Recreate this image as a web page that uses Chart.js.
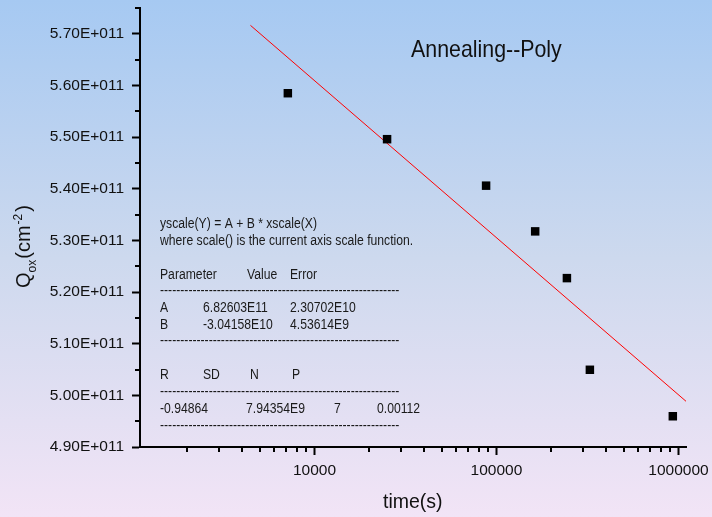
<!DOCTYPE html>
<html lang="en">
<head>
<meta charset="UTF-8">
<title>Annealing--Poly</title>
<script src="https://cdn.jsdelivr.net/npm/chart.js"></script>
<style>
  body {
    margin: 0;
    width: 712px;
    height: 517px;
    overflow: hidden;
    background: linear-gradient(to bottom, #a6c9f2 0%, #cdd9ee 50%, #f2e4f6 100%);
  }
</style>
</head>
<body>
<canvas id="qoxChart" width="712" height="517"></canvas>
<script>
// annealing time (s) vs oxide charge Qox (cm^-2)
const timeSec = [7140, 25060, 87700, 163200, 243800, 326000, 931000];
const qox = [5.585e11, 5.496e11, 5.406e11, 5.3175e11, 5.227e11, 5.0495e11, 4.9595e11];

// ends of the fitted line Q = A + B*log10(t)
const fitTime = [4450, 1100000];
const fitQox = [5.7164e11, 4.9885e11];

const xMajorTicks = [10000, 100000, 1000000];
const xMinorTicks = [2000, 3000, 4000, 5000, 6000, 7000, 8000, 9000,
  20000, 30000, 40000, 50000, 60000, 70000, 80000, 90000,
  200000, 300000, 400000, 500000, 600000, 700000, 800000, 900000];
const yMajorTicks = [4.9e11, 5.0e11, 5.1e11, 5.2e11, 5.3e11, 5.4e11, 5.5e11, 5.6e11, 5.7e11];
const yMinorTicks = [4.95e11, 5.05e11, 5.15e11, 5.25e11, 5.35e11, 5.45e11, 5.55e11, 5.65e11, 5.75e11];

// fit report
const fitEquation = ['yscale(Y) = A + B * xscale(X)', 'where scale() is the current axis scale function.'];
const fitHeader = ['Parameter', 'Value', 'Error'];
const fitParams = [['A', '6.82603E11', '2.30702E10'], ['B', '-3.04158E10', '4.53614E9']];
const statHeader = ['R', 'SD', 'N', 'P'];
const statValues = ['-0.94864', '7.94354E9', '7', '0.00112'];

const FONT = '"Liberation Sans", Arial, sans-serif';

function sci(v) {
  const parts = v.toExponential(2).split('e');
  const e = parseInt(parts[1], 10);
  return parts[0] + 'E' + (e < 0 ? '-' : '+') + String(Math.abs(e)).padStart(3, '0');
}

function text(ctx, s, x, y, size, sx, color) {
  ctx.save();
  ctx.font = size + 'px ' + FONT;
  ctx.fillStyle = color || '#111';
  ctx.textAlign = 'left';
  ctx.textBaseline = 'alphabetic';
  ctx.translate(x, y);
  ctx.scale(sx, 1);
  ctx.fillText(s, 0, 0);
  ctx.restore();
}

const extras = {
  id: 'extras',
  afterDraw(chart) {
    const ctx = chart.ctx;
    const xs = chart.scales.x, ys = chart.scales.y;
    const area = chart.chartArea;

    // minor ticks
    ctx.save();
    ctx.strokeStyle = '#000';
    ctx.lineWidth = 2;
    ctx.beginPath();
    xMinorTicks.forEach(v => {
      const px = Math.round(xs.getPixelForValue(v));
      ctx.moveTo(px, area.bottom);
      ctx.lineTo(px, area.bottom + 5);
    });
    yMinorTicks.forEach(v => {
      const py = Math.round(ys.getPixelForValue(v));
      ctx.moveTo(area.left, py);
      ctx.lineTo(area.left - 5, py);
    });
    ctx.stroke();
    ctx.restore();

    // chart label
    text(ctx, 'Annealing--Poly', 411, 57, 24, 0.89, '#111');

    // x title
    text(ctx, 'time(s)', 383, 508, 19.5, 1, '#111');

    // y title with sub/superscript
    ctx.save();
    ctx.translate(30, 288);
    ctx.rotate(-Math.PI / 2);
    ctx.fillStyle = '#111';
    ctx.textBaseline = 'alphabetic';
    let cx = 0;
    const put = (s, size, dy) => {
      ctx.font = size + 'px ' + FONT;
      ctx.fillText(s, cx, dy);
      cx += ctx.measureText(s).width;
    };
    put('Q', 20, 0);
    put('ox', 12, 6);
    cx += 1;
    put('(cm', 20, 0);
    cx += 1;
    put('-2', 12, -8);
    cx += 2;
    put(')', 20, 0);
    ctx.restore();

    // fit report block
    const fs = 14, sx = 0.87, col = '#1a1a1a';
    const dashes = (y) => {
      ctx.save();
      ctx.font = fs + 'px ' + FONT;
      const w = ctx.measureText('-').width * sx;
      ctx.restore();
      text(ctx, '-'.repeat(Math.round(240 / w)), 160, y, fs, sx, col);
    };
    text(ctx, fitEquation[0], 160, 228, fs, sx, col);
    text(ctx, fitEquation[1], 160, 245, fs, sx, col);
    [160, 247, 290].forEach((x, i) => text(ctx, fitHeader[i], x, 279, fs, sx, col));
    dashes(294.5);
    fitParams.forEach((row, r) => {
      [160, 203, 290].forEach((x, i) => text(ctx, row[i], x, 312 + r * 16.5, fs, sx, col));
    });
    dashes(345);
    [160, 203, 250, 292].forEach((x, i) => text(ctx, statHeader[i], x, 379, fs, sx, col));
    dashes(396);
    [160, 246, 334, 377].forEach((x, i) => text(ctx, statValues[i], x, 413, fs, sx, col));
    dashes(429.5);
  }
};

new Chart(document.getElementById('qoxChart'), {
  type: 'scatter',
  data: {
    datasets: [
      {
        label: 'Qox',
        data: timeSec.map((t, i) => ({ x: t, y: qox[i] })),
        pointStyle: 'rect',
        pointRadius: 6,
        pointBackgroundColor: '#000',
        pointBorderColor: '#000',
        pointBorderWidth: 0
      },
      {
        label: 'Linear fit',
        data: fitTime.map((t, i) => ({ x: t, y: fitQox[i] })),
        showLine: true,
        borderColor: '#ff0000',
        borderWidth: 1,
        pointRadius: 0
      }
    ]
  },
  options: {
    responsive: false,
    animation: false,
    devicePixelRatio: 1,
    layout: { padding: { top: 8, right: 26, left: 0, bottom: 0 } },
    plugins: { legend: { display: false }, tooltip: { enabled: false } },
    scales: {
      x: {
        type: 'logarithmic',
        min: 1100,
        max: 1100000,
        afterBuildTicks: s => { s.ticks = xMajorTicks.map(v => ({ value: v })); },
        afterFit: s => { s.height = 70; s.paddingLeft = 0; s.paddingRight = 0; },
        grid: { drawOnChartArea: false, tickLength: 8, tickWidth: 2, tickColor: '#000' },
        border: { color: '#000', width: 2 },
        ticks: {
          color: '#111',
          font: { family: FONT, size: 15.5 },
          padding: 6,
          maxRotation: 0,
          autoSkip: false,
          callback: v => String(v)
        }
      },
      y: {
        min: 4.9e11,
        max: 5.75e11,
        afterBuildTicks: s => { s.ticks = yMajorTicks.map(v => ({ value: v })); },
        afterFit: s => { s.width = 140; s.paddingTop = 0; s.paddingBottom = 0; },
        grid: { drawOnChartArea: false, tickLength: 8, tickWidth: 2, tickColor: '#000' },
        border: { color: '#000', width: 2 },
        ticks: {
          color: '#111',
          font: { family: FONT, size: 15.5 },
          padding: 8,
          autoSkip: false,
          callback: v => sci(v)
        }
      }
    }
  },
  plugins: [extras]
});
</script>
</body>
</html>
